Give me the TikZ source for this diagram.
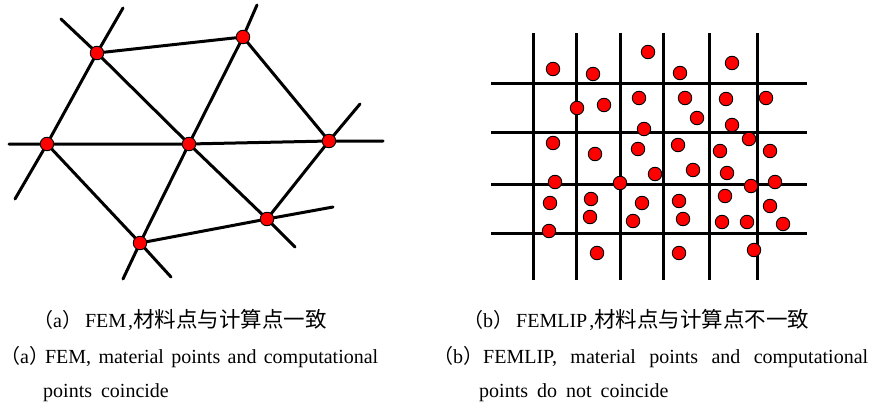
\documentclass[tikz,border=0pt]{standalone}
\usepackage{fontspec}
\setmainfont{Liberation Serif}[WordSpace={1.8,1,1}]
\newfontfamily\cjk{Noto Sans CJK SC}
\usetikzlibrary{positioning}

\begin{document}
\begin{tikzpicture}[
    x=1pt, y=-1pt,
    % Styling lines and points
    meshline/.style={line width=3pt, black, line cap=round},
    gridline/.style={line width=3pt, black},
    dot/.style={
      circle,
      draw=black,
      line width=0.9pt,
      fill=red,
      minimum size=13.5pt,
      inner sep=0pt
    },
    caption/.style={anchor=base west, inner sep=0pt, font=\fontsize{20}{24}\selectfont}
  ]
  \useasboundingbox (0,0) rectangle (872,404);

  % Left: FEM mesh nodes
  \coordinate (pa) at (97,53);
  \coordinate (pb) at (243,37);
  \coordinate (pc) at (47,144);
  \coordinate (pd) at (189,144);
  \coordinate (pe) at (329,141);
  \coordinate (pf) at (267,219);
  \coordinate (pg) at (140,243);

  % Free ends of the mesh lines
  \coordinate (ea1) at (123,8);
  \coordinate (ea2) at (61,19);
  \coordinate (eb) at (257,5);
  \coordinate (ec1) at (9,144);
  \coordinate (ec2) at (15,199);
  \coordinate (ee1) at (383,141);
  \coordinate (ee2) at (360,104);
  \coordinate (ef1) at (295,247);
  \coordinate (ef2) at (333,207);
  \coordinate (eg1) at (123,279);
  \coordinate (eg2) at (171,277);

  % Mesh lines
  \draw[meshline] (ec2) -- (pc) -- (pa) -- (ea1);
  \draw[meshline] (ea2) -- (pa) -- (pd) -- (pf) -- (ef1);
  \draw[meshline] (eb) -- (pb) -- (pd) -- (pg) -- (eg1);
  \draw[meshline] (ec1) -- (pc) -- (pd) -- (pe) -- (ee1);
  \draw[meshline] (pa) -- (pb) -- (pe);
  \draw[meshline] (pf) -- (pe) -- (ee2);
  \draw[meshline] (pc) -- (pg) -- (eg2);
  \draw[meshline] (pg) -- (pf) -- (ef2);

  % Mesh points (material = computational)
  \foreach \p in {a,b,c,d,e,f,g}
    \node[dot] (n\p) at (p\p) {};

  % Right: FEMLIP grid
  \foreach \x in {533,576,620,663,709,757}
    \draw[gridline] (\x,33) -- (\x,280);
  \foreach \y in {83,132,184,233}
    \draw[gridline] (491,\y) -- (807,\y);

  % Material points
  \foreach \x/\y [count=\i] in {
      648/52, 553/69, 593/74, 680/73, 732/63,
      577/108, 604/105, 639/98, 685/98, 726/99, 766/98,
      697/118, 732/125, 644/129,
      553/143, 595/154, 638/149, 678/145, 749/139, 720/151, 770/151,
      693/170, 727/173, 655/174,
      555/182, 620/183, 751/186, 775/182,
      550/203, 591/199, 642/203, 679/201, 725/196, 770/206,
      590/217, 633/221, 683/219, 722/222, 747/222, 783/224,
      549/231, 597/253, 679/253, 754/250}
    \node[dot] (mp\i) at (\x,\y) {};

  % Captions
  \node[caption] (capa1) at (33,327)
    {{\cjk （}a{\cjk ）}\kern3pt FEM\kern2pt,{\cjk\fontsize{21.5}{24}\selectfont 材料点与计算点一致}};
  \node[caption] (capa2) at (0,363)
    {\hbox to 372pt{{\cjk （}a{\cjk ）}\kern-4pt FEM, material points and computational}};
  \node[caption] (capa3) at (43,397) {points coincide};

  \node[caption] (capb1) at (463,327)
    {{\cjk （}b{\cjk ）}\kern3pt FEMLIP\kern2pt,{\cjk\fontsize{21.5}{24}\selectfont 材料点与计算点不一致}};
  \node[caption] (capb2) at (433,363)
    {\hbox to 435pt{{\cjk （}b{\cjk ）}FEMLIP, material points and computational}};
  \node[caption] (capb3) at (479,397) {points do not coincide};

\end{tikzpicture}
\end{document}
